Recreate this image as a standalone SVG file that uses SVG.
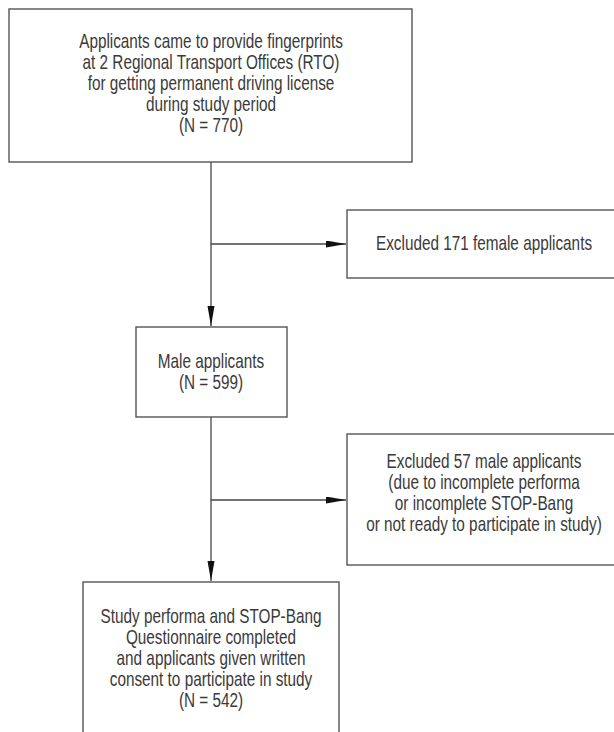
<svg xmlns="http://www.w3.org/2000/svg" width="614" height="732" viewBox="0 0 614 732">
<style>
.box{fill:#fff;stroke:#555;stroke-width:1.4}
.t{font-family:"Liberation Sans",Arial,sans-serif;font-size:20.5px;fill:#3a3a3a;text-anchor:middle}
.c{fill:none;stroke:#444;stroke-width:1.3}
</style>
<defs>
<marker id="ah" markerUnits="userSpaceOnUse" markerWidth="20" markerHeight="8" refX="20" refY="3.5" orient="auto">
<path d="M0,0 L20,3.5 L0,7 z" fill="#111"/>
</marker>
</defs>
<rect width="614" height="732" fill="#fff"/>
<g id="connectors">
<path class="c" d="M211,162 V326" marker-end="url(#ah)"/>
<path class="c" d="M211,244 H346" marker-end="url(#ah)"/>
<path class="c" d="M211,417 V581" marker-end="url(#ah)"/>
<path class="c" d="M211,500 H346" marker-end="url(#ah)"/>
</g>
<g id="n1">
<rect class="box" x="9" y="9" width="403" height="153"/>
<text class="t" transform="translate(211,48) scale(0.747,1)">Applicants came to provide fingerprints</text>
<text class="t" transform="translate(211,69) scale(0.747,1)">at 2 Regional Transport Offices (RTO)</text>
<text class="t" transform="translate(211,90) scale(0.747,1)">for getting permanent driving license</text>
<text class="t" transform="translate(211,111) scale(0.747,1)">during study period</text>
<text class="t" transform="translate(211,132) scale(0.747,1)">(N = 770)</text>
</g>
<g id="n2">
<rect class="box" x="347" y="210" width="274" height="68"/>
<text class="t" transform="translate(484,250) scale(0.747,1)">Excluded 171 female applicants</text>
</g>
<g id="n3">
<rect class="box" x="136" y="327" width="151" height="90"/>
<text class="t" transform="translate(211,368) scale(0.747,1)">Male applicants</text>
<text class="t" transform="translate(211,389) scale(0.747,1)">(N = 599)</text>
</g>
<g id="n4">
<rect class="box" x="347" y="434" width="274" height="131"/>
<text class="t" transform="translate(484,468) scale(0.747,1)">Excluded 57 male applicants</text>
<text class="t" transform="translate(484,489) scale(0.747,1)">(due to incomplete performa</text>
<text class="t" transform="translate(484,510) scale(0.747,1)">or incomplete STOP-Bang</text>
<text class="t" transform="translate(484,531) scale(0.747,1)">or not ready to participate in study)</text>
</g>
<g id="n5">
<rect class="box" x="83" y="582" width="256" height="160"/>
<text class="t" transform="translate(211,623) scale(0.747,1)">Study performa and STOP-Bang</text>
<text class="t" transform="translate(211,644) scale(0.747,1)">Questionnaire completed</text>
<text class="t" transform="translate(211,665) scale(0.747,1)">and applicants given written</text>
<text class="t" transform="translate(211,686) scale(0.747,1)">consent to participate in study</text>
<text class="t" transform="translate(211,707) scale(0.747,1)">(N = 542)</text>
</g>
</svg>
